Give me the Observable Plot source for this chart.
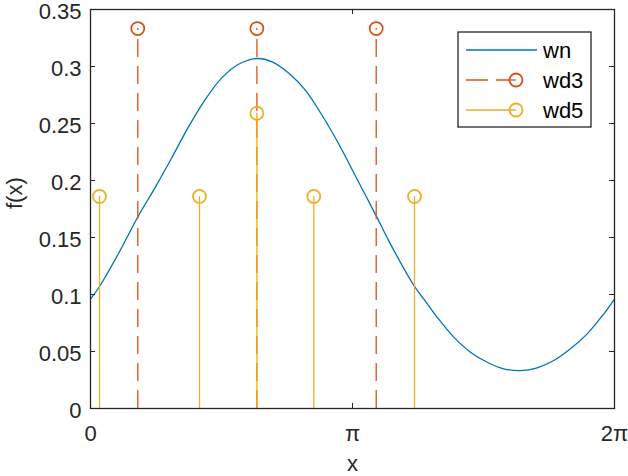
<!DOCTYPE html>
<html>
<head>
<meta charset="utf-8">
<script src="https://cdn.jsdelivr.net/npm/d3@7"></script>
<script src="https://cdn.jsdelivr.net/npm/@observablehq/plot@0.6"></script>
<style>
  html, body { margin: 0; padding: 0; background: #fff; }
  #chart { width: 628px; height: 476px; }
</style>
</head>
<body>
<div id="chart"></div>
<script>
// ---- data ----
const wnX = [0, 0.108, 0.336, 0.567, 0.776, 0.975, 1.175, 1.375, 1.574, 1.775, 1.995, 2.179, 2.378, 2.578, 2.778, 2.977, 3.177, 3.426, 3.577, 3.877, 4.017, 4.157, 4.356, 4.556, 4.757, 4.956, 5.156, 5.356, 5.555, 5.755, 5.956, 6.155, 6.283];
const wnY = [0.096, 0.107, 0.136, 0.168, 0.194, 0.220, 0.247, 0.271, 0.290, 0.302, 0.307, 0.304, 0.294, 0.279, 0.257, 0.232, 0.204, 0.169, 0.147, 0.108, 0.094, 0.080, 0.0626, 0.0494, 0.0406, 0.0348, 0.0333, 0.0357, 0.0421, 0.0524, 0.0655, 0.083, 0.096];

const wd3X = [0.567, 1.995, 3.426];
const wd3W = [0.3333, 0.3333, 0.3333];

const wd5X = [0.108, 1.307, 1.995, 2.677, 3.885];
const wd5W = [0.186, 0.186, 0.259, 0.186, 0.186];

const yTicks = [0, 0.05, 0.1, 0.15, 0.2, 0.25, 0.3, 0.35];
const xTicks = [0, Math.PI, 2 * Math.PI];
const xTickLabels = ["0", "π", "2π"];
const seriesNames = ["wn", "wd3", "wd5"];

// ---- build ----
const wn = wnX.map((x, i) => ({x, y: wnY[i]}));
const wd3 = wd3X.map((x, i) => ({x, y: wd3W[i]}));
const wd5 = wd5X.map((x, i) => ({x, y: wd5W[i]}));

const W = 628, H = 476, mL = 90, mR = 14, mT = 9, mB = 68;
const plotW = W - mL - mR, plotH = H - mT - mB;
const tickLen = 5;
const axisColor = "#262626";
const C = {wn: "#0072BD", wd3: "#D95319", wd5: "#EDB120"};
const font = "'Liberation Sans', Arial, Helvetica, sans-serif";
const fs = 22;

const svg = Plot.plot({
  width: W, height: H,
  marginLeft: mL, marginRight: mR, marginTop: mT, marginBottom: mB,
  style: {fontFamily: font, fontSize: fs + "px", color: axisColor, background: "#fff", overflow: "visible"},
  x: {domain: [0, 2 * Math.PI], axis: null},
  y: {domain: [0, 0.35], axis: null},
  marks: [
    Plot.line(wn, {x: "x", y: "y", stroke: C.wn, strokeWidth: 1.3, curve: "catmull-rom"}),
    Plot.ruleX(wd3, {x: "x", y1: 0, y2: "y", stroke: C.wd3, strokeWidth: 1.3, strokeDasharray: "18,9"}),
    Plot.dot(wd3, {x: "x", y: "y", r: 6.5, stroke: C.wd3, strokeWidth: 1.8, fill: "none"}),
    Plot.ruleX(wd5, {x: "x", y1: 0, y2: "y", stroke: C.wd5, strokeWidth: 1.3}),
    Plot.dot(wd5, {x: "x", y: "y", r: 6.5, stroke: C.wd5, strokeWidth: 1.8, fill: "none"}),
    // inward ticks (left/right/bottom/top)
    Plot.tickY(yTicks, {y: d => d, stroke: axisColor, insetRight: plotW - tickLen}),
    Plot.tickY(yTicks, {y: d => d, stroke: axisColor, insetLeft: plotW - tickLen}),
    Plot.tickX(xTicks, {x: d => d, stroke: axisColor, insetTop: plotH - tickLen}),
    Plot.tickX(xTicks, {x: d => d, stroke: axisColor, insetBottom: plotH - tickLen}),
    Plot.frame({stroke: axisColor, strokeWidth: 1.3}),
    Plot.axisY({ticks: yTicks, tickSize: 0, tickPadding: 9, dy: 2.5, tickFormat: d => String(d), fontSize: fs, label: null}),
    Plot.axisX({ticks: xTicks, tickSize: 0, tickPadding: 17, tickFormat: (d, i) => xTickLabels[i], fontSize: fs, label: null}),
    Plot.text(["x"], {frameAnchor: "bottom", dy: 62, text: d => d, fontSize: fs, fill: axisColor}),
    Plot.text(["f(x)"], {frameAnchor: "left", dx: -76, rotate: -90, text: d => d, fontSize: fs, fill: axisColor})
  ]
});

// ---- legend (inside plot, top-right) ----
const g = d3.select(svg).append("g").attr("font-family", font).attr("font-size", fs)
  .attr("text-anchor", "start");
const lx = 458, ly = 32, lw = 133, lh = 95;
g.append("rect").attr("x", lx).attr("y", ly).attr("width", lw).attr("height", lh)
  .attr("fill", "#fff").attr("stroke", axisColor).attr("stroke-width", 1.3);
const rows = [
  {name: seriesNames[0], color: C.wn, dash: null, marker: false},
  {name: seriesNames[1], color: C.wd3, dash: "22,8", marker: true},
  {name: seriesNames[2], color: C.wd5, dash: null, marker: true}
];
rows.forEach((r, i) => {
  const y = ly + 18 + i * 30;
  const x1 = lx + 8, x2 = r.marker ? lx + 58 : lx + 79;
  g.append("line").attr("x1", x1).attr("x2", x2).attr("y1", y).attr("y2", y)
    .attr("stroke", r.color).attr("stroke-width", 1.3).attr("stroke-dasharray", r.dash);
  if (r.marker) {
    g.append("circle").attr("cx", lx + 58).attr("cy", y).attr("r", 6.5)
      .attr("fill", "none").attr("stroke", r.color).attr("stroke-width", 1.8);
  }
  g.append("text").attr("x", lx + 85).attr("y", y).attr("dy", "0.35em")
    .attr("fill", "#000").text(r.name);
});

document.getElementById("chart").appendChild(svg);
</script>
</body>
</html>
